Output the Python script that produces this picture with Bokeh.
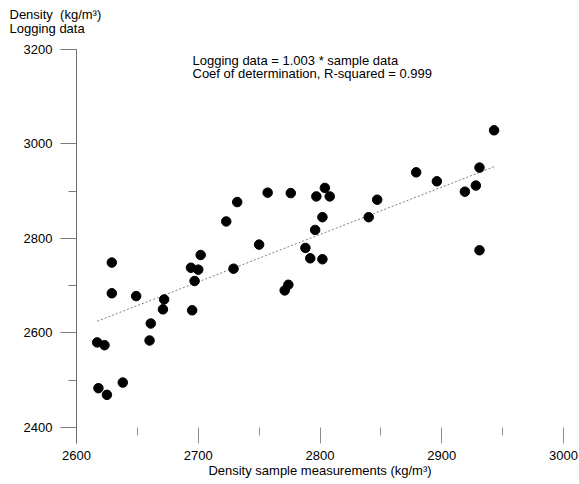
from bokeh.plotting import figure
from bokeh.models import Range1d, FixedTicker, Label, Title
from bokeh.embed import file_html
from bokeh.resources import INLINE

# ---- data ----
sample = [2617, 2623, 2618, 2625, 2638, 2629, 2629, 2649, 2660, 2661,
          2671, 2672, 2695, 2697, 2694, 2700, 2702, 2729, 2723, 2732,
          2750, 2757, 2776, 2774, 2771, 2788, 2792, 2802, 2796, 2802,
          2797, 2804, 2808, 2840, 2847, 2879, 2896, 2919, 2928, 2931,
          2931, 2943]
logging = [2580, 2574, 2483, 2469, 2495, 2749, 2684, 2678, 2584, 2620,
           2650, 2671, 2648, 2710, 2738, 2734, 2765, 2736, 2836, 2877,
           2787, 2897, 2896, 2702, 2690, 2780, 2758, 2756, 2818, 2845,
           2889, 2907, 2889, 2845, 2882, 2940, 2921, 2899, 2912, 2950,
           2775, 3029]
slope = 1.003
r_squared = 0.999

x_ticks = [2600, 2700, 2800, 2900, 3000]
x_minor = [2650, 2750, 2850, 2950]
y_ticks = [2400, 2600, 2800, 3000, 3200]
y_minor = [2500, 2700, 2900]

title_lines = ["Density\u00a0 (kg/m\u00b3)", "Logging data"]
x_label = "Density sample measurements (kg/m\u00b3)"
note_lines = [f"Logging data = {slope} * sample data",
              f"Coef of determination, R-squared = {r_squared}"]

FONT = "Liberation Sans"
FS = "13px"

p = figure(width=579, height=484,
           x_range=Range1d(2600, 3000), y_range=Range1d(2366, 3200),
           output_backend="svg", toolbar_location=None,
           min_border_left=76, min_border_right=16,
           min_border_top=49, min_border_bottom=41)
p.grid.visible = False
p.outline_line_color = None
p.background_fill_color = "white"
p.border_fill_color = "white"

# x axis
xa = p.xaxis[0]
xa.ticker = FixedTicker(ticks=x_ticks, minor_ticks=x_minor)
xa.axis_line_color = None
xa.major_tick_in = 16
xa.major_tick_out = 0
xa.minor_tick_in = 16
xa.minor_tick_out = -8
xa.major_tick_line_color = "#8c8c8c"
xa.minor_tick_line_color = "#8c8c8c"
xa.major_label_standoff = 7
xa.major_label_text_font = FONT
xa.major_label_text_font_size = FS
xa.major_label_text_color = "black"
xa.axis_label = x_label
xa.axis_label_standoff = 0
xa.axis_label_text_font = FONT
xa.axis_label_text_font_size = FS
xa.axis_label_text_font_style = "normal"
xa.axis_label_text_color = "black"

# y axis
ya = p.yaxis[0]
ya.ticker = FixedTicker(ticks=y_ticks, minor_ticks=y_minor)
ya.axis_line_color = "#6e6e6e"
ya.major_tick_in = 0
ya.major_tick_out = 16
ya.minor_tick_in = 0
ya.minor_tick_out = 8
ya.major_tick_line_color = "#7a7a7a"
ya.minor_tick_line_color = "#7a7a7a"
ya.major_label_standoff = 8
ya.major_label_text_font = FONT
ya.major_label_text_font_size = FS
ya.major_label_text_color = "black"

# fitted line
xs = [min(sample), max(sample)]
ys = [slope * x for x in xs]
p.line(xs, ys, line_color="#7f7f7f", line_dash="2 2", line_width=1)

# points
p.scatter(sample, logging, size=9.5, color="black")

# title (top-left), two lines plus an empty spacer line below them
p.add_layout(Title(text="\n".join(title_lines) + "\n", align="left", offset=-67, standoff=0,
                   text_font=FONT, text_font_size=FS, text_line_height=0.92,
                   text_font_style="normal", text_color="black"), "above")

# annotation
for i, t in enumerate(note_lines):
    p.add_layout(Label(x=116, y=390.5 - 13 * i, x_units="screen", y_units="screen",
                       text=t, text_align="left", text_baseline="top",
                       text_font=FONT, text_font_size=FS, text_color="black"))

open("out.html", "w").write(file_html(p, INLINE))
